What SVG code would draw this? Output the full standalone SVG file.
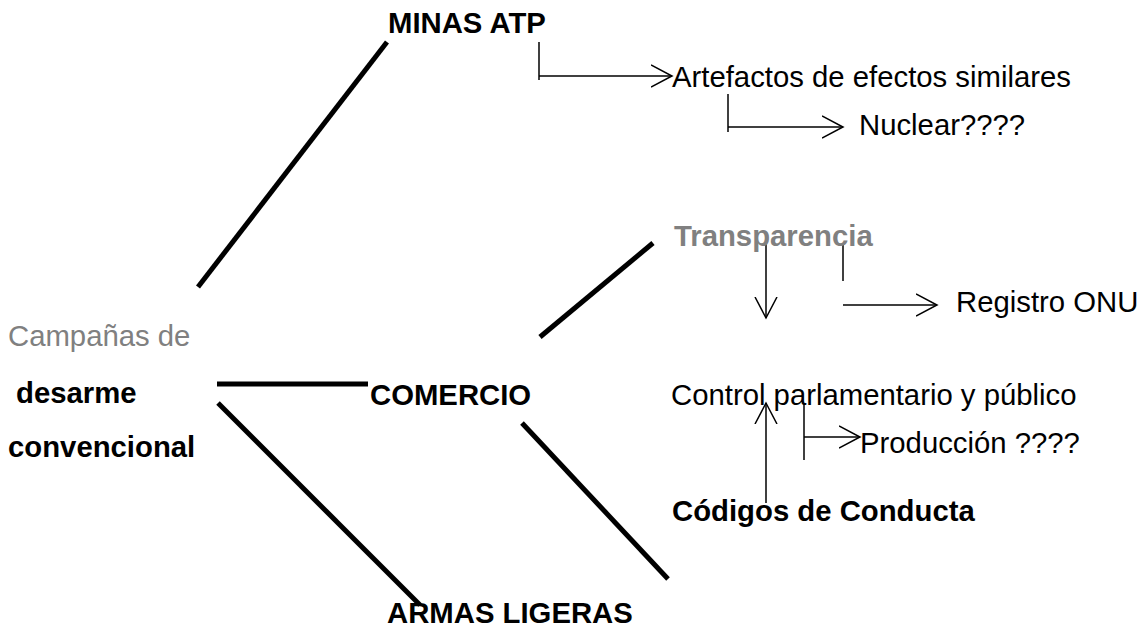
<svg xmlns="http://www.w3.org/2000/svg" width="1144" height="627" viewBox="0 0 1144 627">
<style>
text{font-family:"Liberation Sans",Arial,sans-serif;font-size:29.3px;fill:#000}
.b{font-weight:bold}
.g{fill:#808080}
.thick{stroke:#000;stroke-width:5;fill:none}
.thin{stroke:#000;stroke-width:1.5;fill:none}
</style>
<defs>
<marker id="arr" markerUnits="userSpaceOnUse" markerWidth="24" markerHeight="26" refX="21" refY="12" orient="auto" viewBox="0 0 24 26">
<path d="M0,1 L21,12 L0,23" fill="none" stroke="#000" stroke-width="1.5"/>
</marker>
</defs>
<rect width="1144" height="627" fill="#fff"/>
<g id="connectors">
<line class="thick" x1="198" y1="287" x2="387" y2="42"/>
<line class="thick" x1="217" y1="384" x2="368" y2="384"/>
<line class="thick" x1="218" y1="403" x2="420" y2="605"/>
<line class="thick" x1="540" y1="337" x2="653" y2="243"/>
<line class="thick" x1="522" y1="423" x2="668" y2="579"/>
<path class="thin" d="M539,42 V80"/>
<path class="thin" d="M539,76 H672" marker-end="url(#arr)"/>
<path class="thin" d="M728,94 V132"/>
<path class="thin" d="M728,127 H843" marker-end="url(#arr)"/>
<path class="thin" d="M766,243 V318" marker-end="url(#arr)"/>
<path class="thin" d="M843,243 V281"/>
<path class="thin" d="M843,305 H937" marker-end="url(#arr)"/>
<path class="thin" d="M766,503 V403" marker-end="url(#arr)"/>
<path class="thin" d="M804,403 V460"/>
<path class="thin" d="M804,437 H860" marker-end="url(#arr)"/>
</g>
<g id="root"><text class="g" x="8" y="346">Campañas de</text><text class="b" x="16" y="403">desarme</text><text class="b" x="8" y="457">convencional</text></g>
<g id="minas"><text class="b" x="388" y="33">MINAS ATP</text></g>
<g id="artefactos"><text x="672" y="87">Artefactos de efectos similares</text></g>
<g id="nuclear"><text x="859" y="135">Nuclear????</text></g>
<g id="comercio"><text class="b" x="370" y="405">COMERCIO</text></g>
<g id="transparencia"><text class="b g" x="674" y="246">Transparencia</text></g>
<g id="registro"><text x="956" y="312">Registro ONU</text></g>
<g id="control"><text x="671" y="405">Control parlamentario y público</text></g>
<g id="produccion"><text x="860" y="453">Producción ????</text></g>
<g id="codigos"><text class="b" x="672" y="521">Códigos de Conducta</text></g>
<g id="armas"><text class="b" x="387" y="623">ARMAS LIGERAS</text></g>
</svg>
